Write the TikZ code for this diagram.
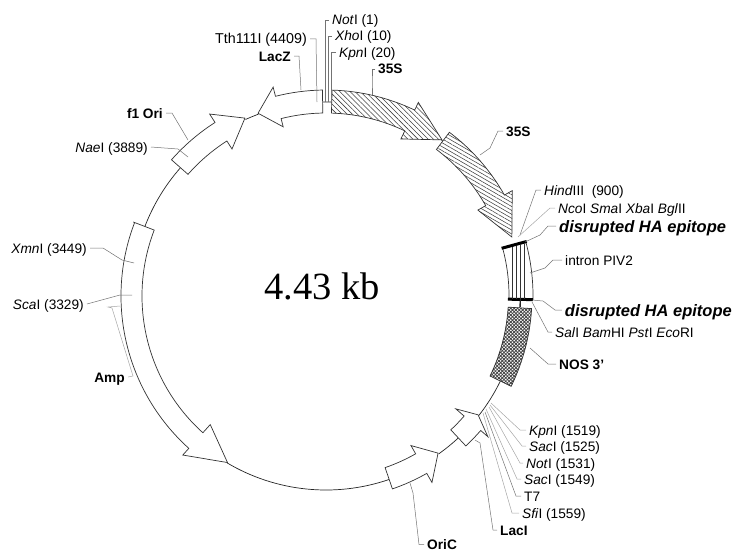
\documentclass[tikz,border=0pt]{standalone}
\usepackage{fontspec}
\setmainfont{Liberation Sans}
\newfontfamily\sizefont{Liberation Serif}
\usetikzlibrary{patterns.meta}

\begin{document}
\begin{tikzpicture}[
        x=1pt, y=-1pt,
        feature/.style={draw=black!80, fill=white, line width=0.7pt, line join=miter},
        hatchA/.style={feature, pattern={Lines[angle=-45, distance=3.6pt, line width=0.55pt]}, pattern color=black!75},
        hatchB/.style={feature, pattern={Lines[angle=-30, distance=3.4pt, line width=0.55pt]}, pattern color=black!75},
        crossC/.style={feature, pattern={Lines[angle=45, distance=2.4pt, line width=0.8pt]}, pattern color=black!75,
            preaction={pattern={Lines[angle=-45, distance=2.4pt, line width=0.8pt]}, pattern color=black!75}},
        backbone/.style={draw=black!85, line width=0.7pt},
        bar/.style={draw=black, line width=3pt},
        leader/.style={draw=black!55, line width=0.5pt},
        lightleader/.style={draw=black!35, line width=0.5pt},
        site/.style={font=\fontsize{13.7}{15}\selectfont, inner sep=3pt, text height=13pt, text depth=3pt},
        gene/.style={site, font=\fontsize{13.7}{15}\selectfont\bfseries},
        epitope/.style={site, font=\fontsize{16.5}{18}\selectfont\bfseries\itshape, text height=15pt}
    ]
    \useasboundingbox (0,0) rectangle (735,551);

    \begin{scope}[shift={(326,296)}]
        % backbone between the features
        \draw[backbone] (-91:194) arc[start angle=-91, end angle=-88.3, radius=194];
        \draw[backbone] (-53.4:194) arc[start angle=-53.4, end angle=-53, radius=194];
        \draw[backbone] (1:194) arc[start angle=1, end angle=3.5, radius=194];
        \draw[backbone] (26:194) arc[start angle=26, end angle=38, radius=194];
        \draw[backbone] (47:194) arc[start angle=47, end angle=54.5, radius=194];
        \draw[backbone] (71:194) arc[start angle=71, end angle=120.6, radius=194];
        \draw[backbone] (201:194) arc[start angle=201, end angle=221.4, radius=194];
        \draw[backbone] (245.5:194) arc[start angle=245.5, end angle=249.6, radius=194];

        % arrows, clockwise
        \draw[hatchA] (-88.3:183) -- (-88.3:206) arc[start angle=-88.3, end angle=-64.5, radius=206]
            -- (-64.5:214.5) -- (-53.4:194.5) -- (-64.5:174) -- (-64.5:183)
            arc[start angle=-64.5, end angle=-88.3, radius=183] -- cycle;
        \draw[hatchB] (-53:183.5) -- (-53:205) arc[start angle=-53, end angle=-29.5, radius=205]
            -- (-29.5:214) -- (-17.6:195) -- (-29.5:174.5) -- (-29.5:183.5)
            arc[start angle=-29.5, end angle=-53, radius=183.5] -- cycle;
        \draw[feature] (-15:183) -- (-15:207) arc[start angle=-15, end angle=1, radius=207]
            -- (1:183) arc[start angle=1, end angle=-15, radius=183] -- cycle;
        \draw[crossC] (3.5:182.5) -- (3.5:206) arc[start angle=3.5, end angle=26, radius=206]
            -- (26:182.5) arc[start angle=26, end angle=3.5, radius=182.5] -- cycle;
        \draw[feature] (47:183) -- (47:205) arc[start angle=47, end angle=41, radius=205]
            -- (41:214.5) -- (38:193) -- (41:172) -- (41:183)
            arc[start angle=41, end angle=47, radius=183] -- cycle;
        \draw[feature] (71:181.5) -- (71:204) arc[start angle=71, end angle=60.4, radius=204]
            -- (60.4:214.5) -- (54.5:193) -- (60.4:172) -- (60.4:181.5)
            arc[start angle=60.4, end angle=71, radius=181.5] -- cycle;
        \draw[feature] (201:206.5) -- (201:184) arc[start angle=201, end angle=132, radius=184]
            -- (132:173) -- (120.6:193.5) -- (132:214) -- (132:205)
            arc[start angle=132, end angle=201, radius=205] -- cycle;
        \draw[feature] (221.4:206) -- (221.4:184) arc[start angle=221.4, end angle=237.4, radius=184]
            -- (237.4:174.5) -- (245.5:195.5) -- (237.4:216) -- (237.4:206)
            arc[start angle=237.4, end angle=221.4, radius=206] -- cycle;
        \draw[feature] (269:183) -- (269:206) arc[start angle=269, end angle=255.8, radius=206]
            -- (255.8:215.5) -- (249.6:195) -- (255.8:174.5) -- (255.8:183)
            arc[start angle=255.8, end angle=269, radius=183] -- cycle;

        % ends of the intron
        \draw[bar] (-15.2:182) -- (-15.2:208);
        \draw[bar] (1:182) -- (1:207);
    \end{scope}

    % strips of the intron
    \foreach \stripx/\stripy in {512/247, 516/246, 520/245, 524/244}
        \draw[draw=black!80, line width=0.7pt] (\stripx,\stripy) -- (\stripx,299);
    \draw[backbone] (520,299) -- (520,307);

    \node[font=\sizefont\fontsize{38.5}{40}\selectfont, inner sep=0pt] (size) at (322,286) {4.43 kb};

    % labels at the top
    \node[site, anchor=west] (notA) at (329,20) {\textit{Not}I (1)};
    \node[site, anchor=west] (xhoA) at (332,36) {\textit{Xho}I (10)};
    \node[site, anchor=west] (kpnA) at (336,52) {\textit{Kpn}I (20)};
    \node[site, anchor=east, font=\fontsize{14.3}{15}\selectfont] (tth) at (310,39) {Tth111I (4409)};
    \node[gene, anchor=east] (lacz) at (294,56) {LacZ};
    \node[gene, anchor=west] (sA) at (375,69) {35S};
    \node[gene, anchor=west] (sB) at (503,131) {35S};
    \node[gene, anchor=east] (fori) at (166,113) {f1 Ori};
    \node[site, anchor=east] (nae) at (151,147) {\textit{Nae}I (3889)};
    \node[site, anchor=east] (xmn) at (90,248) {\textit{Xmn}I (3449)};
    \node[site, anchor=east] (sca) at (87,304) {\textit{Sca}I (3329)};
    \node[gene, anchor=east] (amp) at (128,377) {Amp};

    % labels on the right
    \node[site, anchor=west] (hind) at (541,190) {\textit{Hind}III\ \ (900)};
    \node[site, anchor=west] (nco) at (555,208) {\textit{Nco}I \textit{Sma}I \textit{Xba}I \textit{Bgl}II};
    \node[epitope, anchor=west] (haA) at (556,226) {disrupted HA epitope};
    \node[site, anchor=west] (intron) at (562,260) {intron PIV2};
    \node[epitope, anchor=east] (haB) at (735,310) {disrupted HA epitope};
    \node[site, anchor=west] (sal) at (552,332) {\textit{Sal}I \textit{Bam}HI \textit{Pst}I \textit{Eco}RI};
    \node[gene, anchor=west] (nos) at (556,364) {NOS 3'};

    % labels at the bottom
    \node[site, anchor=west] (kpnB) at (526,430) {\textit{Kpn}I (1519)};
    \node[site, anchor=west] (sacA) at (526,446) {\textit{Sac}I (1525)};
    \node[site, anchor=west] (notB) at (523,463) {\textit{Not}I (1531)};
    \node[site, anchor=west] (sacB) at (521,479) {\textit{Sac}I (1549)};
    \node[site, anchor=west] (tseven) at (521,496) {T7};
    \node[site, anchor=west] (sfi) at (519,513) {\textit{Sfi}I (1559)};
    \node[gene, anchor=west] (laci) at (497,530) {LacI};
    \node[gene, anchor=west, text height=10pt, text depth=0pt] (oric) at (424,544.5) {OriC};

    % free ends of the leaders
    \coordinate (notE) at (325,102);
    \coordinate (xhoE) at (328,102);
    \coordinate (kpnE) at (331,102);
    \coordinate (tthE) at (317,102);
    \coordinate (laczE) at (301,90);
    \coordinate (sAE) at (372,95);
    \coordinate (sBE) at (480,155);
    \coordinate (foriE) at (188,140);
    \coordinate (naeE) at (188,157);
    \coordinate (xmnE) at (134,263);
    \coordinate (scaE) at (132,295);
    \coordinate (ampE) at (120,306);
    \coordinate (hindE) at (520,235);
    \coordinate (ncoE) at (518,237);
    \coordinate (haAE) at (525,242);
    \coordinate (intronE) at (530,273);
    \coordinate (haBE) at (532,300);
    \coordinate (salE) at (532,302);
    \coordinate (nosE) at (530,348);
    \coordinate (kpnBE) at (491,403);
    \coordinate (sacAE) at (490,405);
    \coordinate (notBE) at (489,407);
    \coordinate (sacBE) at (486,409);
    \coordinate (tsevenE) at (485,412);
    \coordinate (sfiE) at (483,413);
    \coordinate (laciE) at (475,440);
    \coordinate (oricE) at (410,483);

    \draw[leader] (notA.west) -- (325,20) -- (notE);
    \draw[leader] (xhoA.west) -- (328,36) -- (xhoE);
    \draw[leader] (kpnA.west) -- (331,52) -- (kpnE);
    \draw[leader] (tth.east) -- (316,39) -- (tthE);
    \draw[leader] (lacz.east) -- (299,56) -- (laczE);
    \draw[leader] (sA.west) -- (372,69) -- (372,82) -- (sAE);
    \draw[leader] (sB.west) -- (498,131) -- (490,148) -- (sBE);
    \draw[leader] (fori.east) -- (172,113) -- (foriE);
    \draw[leader] (nae.east) -- (178,149) -- (naeE);
    \draw[leader] (xmn.east) -- (103,248) -- (122,260) -- (xmnE);
    \draw[leader] (sca.east) -- (120,295) -- (scaE);
    \draw[lightleader] (amp.east) -- (133,376) -- (112,308) -- (108,307) -- (ampE);
    \draw[leader] (hind.west) -- (536,190) -- (hindE);
    \draw[lightleader] (nco.west) -- (550,208) -- (ncoE);
    \draw[leader] (haA.west) -- (548,226) -- (540,235) -- (haAE);
    \draw[leader] (intron.west) -- (553,260) -- (545,268) -- (intronE);
    \draw[leader] (haB.west) -- (555,310) -- (543,301) -- (haBE);
    \draw[leader] (sal.west) -- (548,332) -- (salE);
    \draw[leader] (nos.west) -- (548,364) -- (nosE);
    \draw[lightleader] (kpnB.west) -- (520,430) -- (kpnBE);
    \draw[lightleader] (sacA.west) -- (522,446) -- (sacAE);
    \draw[lightleader] (notB.west) -- (520,463) -- (notBE);
    \draw[lightleader] (sacB.west) -- (517,479) -- (sacBE);
    \draw[leader] (tseven.west) -- (516,496) -- (tsevenE);
    \draw[lightleader] (sfi.west) -- (512,513) -- (sfiE);
    \draw[leader] (laci.west) -- (493,530) -- (480,443) -- (laciE);
    \draw[leader] (oric.west) -- (419,544.5) -- (413,493) -- (oricE);
\end{tikzpicture}
\end{document}
